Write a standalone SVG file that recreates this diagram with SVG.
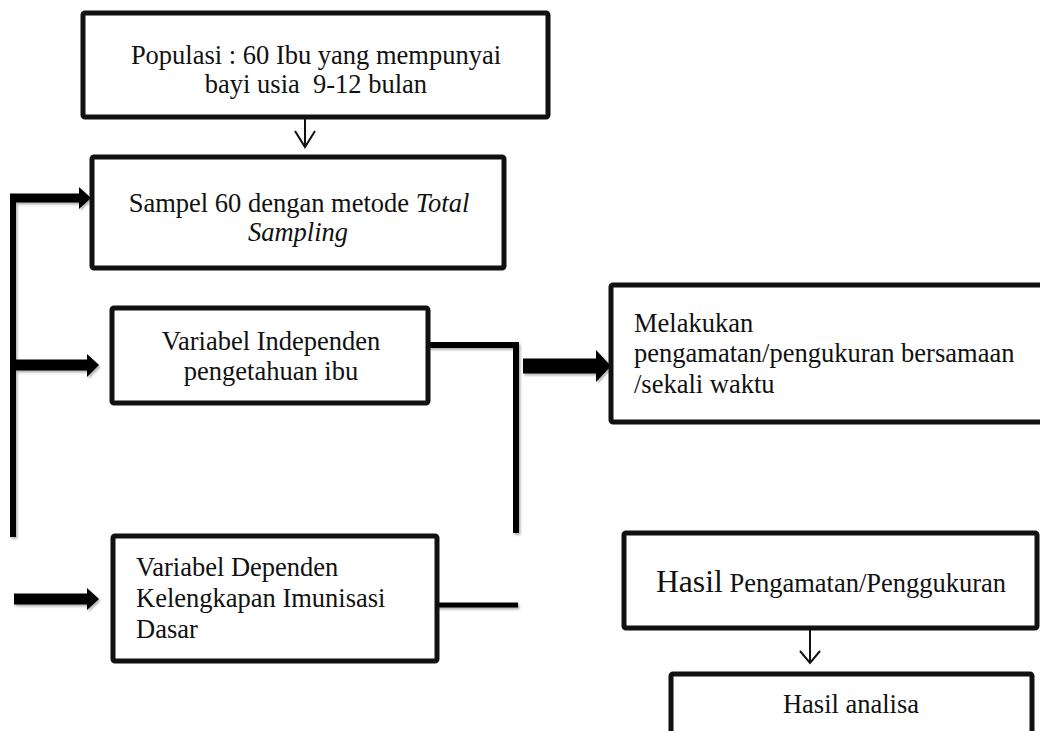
<svg xmlns="http://www.w3.org/2000/svg" width="1040" height="731" viewBox="0 0 1040 731">
  <style>
    .box { fill: #ffffff; stroke: #111111; stroke-width: 5; }
    .t { font-family: "Liberation Serif", "Times New Roman", serif; font-size: 26.5px; fill: #111111; }
    .thin { fill: none; stroke: #111111; stroke-width: 2; }
    .bar { fill: none; stroke: #000000; stroke-linecap: butt; }
    .head { fill: #000000; }
  </style>
  <defs>
    <filter id="sh" x="-20%" y="-20%" width="140%" height="140%">
      <feDropShadow dx="1.5" dy="2" stdDeviation="1.2" flood-color="#000" flood-opacity="0.3"/>
    </filter>
  </defs>
  <rect width="1040" height="731" fill="#ffffff"/>

  <g id="connectors">
    <!-- Populasi -> Sampel -->
    <line class="thin" x1="305" y1="117" x2="305" y2="147"/>
    <polyline class="thin" points="295,131 305,147 315,131"/>
    <!-- Left trunk -->
    <g filter="url(#sh)">
      <line class="bar" x1="13" y1="194" x2="13" y2="537" stroke-width="6"/>
      <line class="bar" x1="10" y1="198" x2="80" y2="198" stroke-width="9"/>
      <polygon class="head" points="79,187 91,198 79,209"/>
      <line class="bar" x1="13" y1="365" x2="88" y2="365" stroke-width="11"/>
      <polygon class="head" points="87,354 99,365 87,377"/>
      <line class="bar" x1="14" y1="599" x2="88" y2="599" stroke-width="11"/>
      <polygon class="head" points="87,588 99,599 87,610"/>
      <!-- Right bracket -->
      <polyline class="bar" points="428,345 516,345 516,533" stroke-width="6" stroke-linejoin="miter"/>
      <line class="bar" x1="437" y1="605" x2="518" y2="605" stroke-width="5"/>
      <!-- Big arrow -->
      <line class="bar" x1="523" y1="366" x2="597" y2="366" stroke-width="15"/>
      <polygon class="head" points="596,350 611,366 596,382"/>
    </g>
    <!-- Hasil -> Hasil analisa -->
    <line class="thin" x1="810" y1="628" x2="810" y2="663"/>
    <polyline class="thin" points="800,651 810,663 820,651"/>
  </g>

  <g id="populasi">
    <rect class="box" x="83" y="13" width="465" height="104" rx="2" stroke="#2a2a2a"/>
    <text class="t" x="316" y="64" text-anchor="middle">Populasi : 60 Ibu yang mempunyai</text>
    <text class="t" x="316" y="93" text-anchor="middle" xml:space="preserve">bayi usia  9-12 bulan</text>
  </g>

  <g id="sampel">
    <rect class="box" x="92" y="157" width="412" height="111" rx="2"/>
    <text class="t" x="299" y="212" text-anchor="middle">Sampel 60 dengan metode <tspan font-style="italic">Total</tspan></text>
    <text class="t" x="298" y="241" text-anchor="middle" font-style="italic">Sampling</text>
  </g>

  <g id="independen">
    <rect class="box" x="112" y="308" width="316" height="95" rx="2"/>
    <text class="t" x="271" y="350" text-anchor="middle">Variabel Independen</text>
    <text class="t" x="271" y="380" text-anchor="middle">pengetahuan ibu</text>
  </g>

  <g id="dependen">
    <rect class="box" x="113" y="536" width="324" height="125" rx="2"/>
    <text class="t" x="136" y="576">Variabel Dependen</text>
    <text class="t" x="136" y="607">Kelengkapan Imunisasi</text>
    <text class="t" x="136" y="638">Dasar</text>
  </g>

  <g id="melakukan">
    <rect class="box" x="611" y="285" width="440" height="137" rx="2"/>
    <text class="t" x="634" y="332">Melakukan</text>
    <text class="t" x="634" y="362">pengamatan/pengukuran bersamaan</text>
    <text class="t" x="634" y="393">/sekali waktu</text>
  </g>

  <g id="hasil-pengamatan">
    <rect class="box" x="624" y="533" width="413" height="95" rx="2"/>
    <text class="t" x="831" y="592" text-anchor="middle"><tspan font-size="31.7px">Hasil</tspan> Pengamatan/Penggukuran</text>
  </g>

  <g id="hasil-analisa">
    <rect class="box" x="671" y="674" width="361" height="80" rx="2"/>
    <text class="t" x="851" y="713" text-anchor="middle">Hasil analisa</text>
  </g>
</svg>
